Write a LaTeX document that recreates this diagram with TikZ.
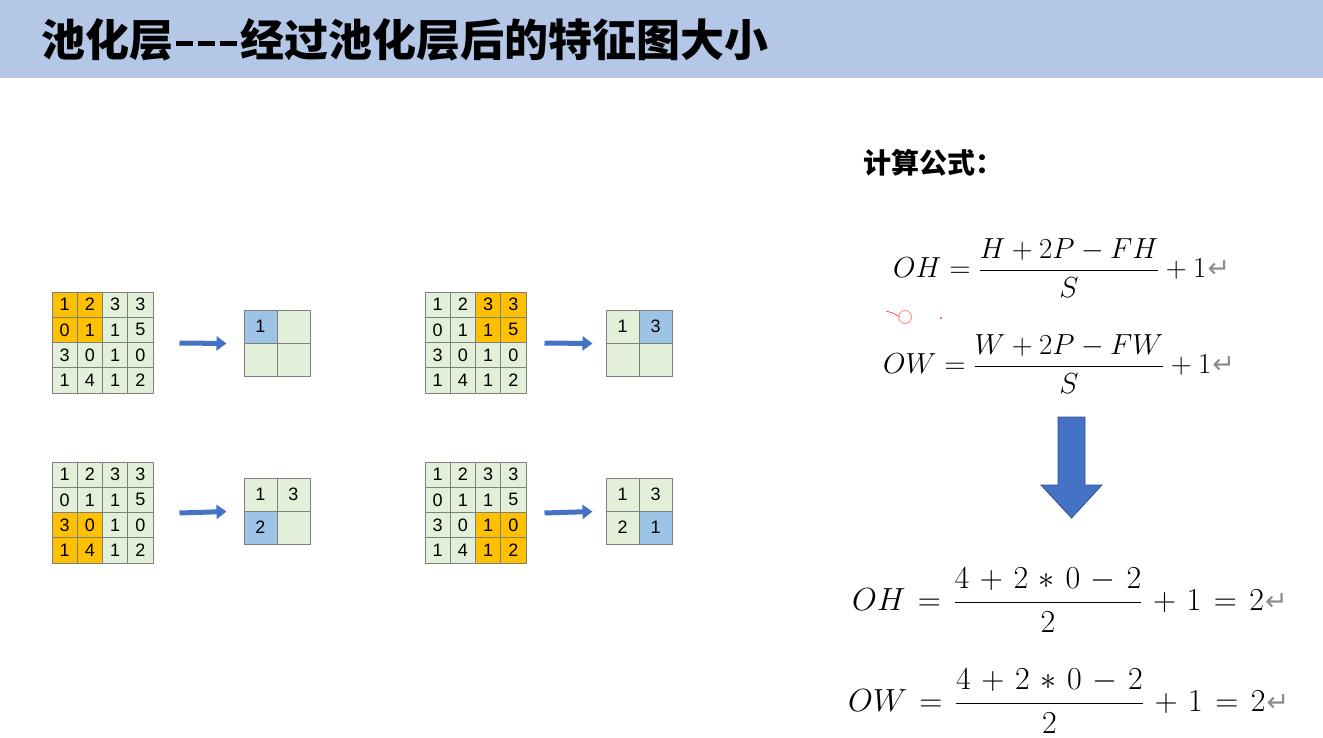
\RequirePackage{fix-cm}
\documentclass[tikz,border=0pt]{standalone}
\usepackage{fontspec}
\usepackage{amsmath}
\usetikzlibrary{arrows.meta,calc}
\newfontfamily\cjk{Noto Sans CJK SC}
\newfontfamily\arial{Liberation Sans}
\newfontfamily\djv{DejaVu Sans}
\definecolor{titlebg}{HTML}{B4C7E7}
\definecolor{cellg}{HTML}{E2EFD9}
\definecolor{cello}{HTML}{FFC000}
\definecolor{cellb}{HTML}{9DC3E6}
\definecolor{arrowb}{HTML}{4472C4}
\definecolor{arrowd}{HTML}{2F528F}
\definecolor{gridline}{HTML}{7F7F7F}
\definecolor{retgray}{HTML}{8C8C8C}
\tikzset{
  incell/.style={draw=gridline,line width=1pt,minimum size=25.25pt,inner sep=0pt,
    font=\arial\fontsize{18}{18}\selectfont},
  outcell/.style={draw=gridline,line width=1pt,minimum size=33pt,inner sep=0pt,
    font=\arial\fontsize{18}{18}\selectfont},
  fatarrow/.style={draw=arrowb,line width=5pt,-{Triangle[length=10pt,width=14pt]}},
  formula/.style={anchor=west,inner sep=0pt,font=\fontsize{29}{34}\selectfont},
  bigformula/.style={anchor=west,inner sep=0pt,font=\fontsize{32}{38}\selectfont},
}
\newcommand\ret{{\djv\color{retgray}\fontsize{27}{27}\selectfont\hspace{1pt}↵}}
\newcommand\tdash{\rule[11pt]{17pt}{4.5pt}}
\newcommand\ingrid[5]{%
  \foreach \rv [count=\r from 0] in {{1,2,3,3},{0,1,1,5},{3,0,1,0},{1,4,1,2}}{%
    \foreach \v [count=\c from 0] in \rv {%
      \pgfmathtruncatemacro\hl{(\r>=#4)&&(\r<=#4+1)&&(\c>=#5)&&(\c<=#5+1)}%
      \ifnum\hl=1 \def\fc{cello}\else\def\fc{cellg}\fi
      \node[incell,fill=\fc] (#1-\r-\c) at (#2+\c*25.25+12.625, #3+\r*25.25+12.625) {\v};
    }}}
\newcommand\ocell[6]{%
  \node[outcell] (#1-#2-#3) at (#4+#3*33+16.5, #5+#2*33+16.5) {#6};}
\begin{document}
\begin{tikzpicture}[x=1pt,y=-1pt]
\useasboundingbox (0,0) rectangle (1323,738);
\fill[white] (0,0) rectangle (1323,738);
\fill[titlebg] (0,0) rectangle (1323,78);
\node[anchor=west,inner sep=0pt,font=\cjk\bfseries\fontsize{44}{44}\selectfont] (title) at (41,40)
  {池化层\hspace{3pt}\tdash\hspace{5pt}\tdash\hspace{5pt}\tdash\hspace{3pt}经过池化层后的特征图大小};

% input grids
\ingrid{inA}{52}{292}{0}{0}
\ingrid{inB}{425}{292}{0}{2}
\ingrid{inC}{52}{462}{2}{0}
\ingrid{inD}{425}{462}{2}{2}

% output grids
\tikzset{outcell/.append style={fill=cellg}}
\ocell{outA}{0}{0}{244}{310}{}
\node[outcell,fill=cellb] at (outA-0-0) {1};
\ocell{outA}{0}{1}{244}{310}{}
\ocell{outA}{1}{0}{244}{310}{}
\ocell{outA}{1}{1}{244}{310}{}

\ocell{outB}{0}{0}{606}{310}{1}
\ocell{outB}{0}{1}{606}{310}{}
\node[outcell,fill=cellb] at (outB-0-1) {3};
\ocell{outB}{1}{0}{606}{310}{}
\ocell{outB}{1}{1}{606}{310}{}

\ocell{outC}{0}{0}{244}{478}{1}
\ocell{outC}{0}{1}{244}{478}{3}
\ocell{outC}{1}{0}{244}{478}{}
\node[outcell,fill=cellb] at (outC-1-0) {2};
\ocell{outC}{1}{1}{244}{478}{}

\ocell{outD}{0}{0}{606}{478}{1}
\ocell{outD}{0}{1}{606}{478}{3}
\ocell{outD}{1}{0}{606}{478}{2}
\ocell{outD}{1}{1}{606}{478}{}
\node[outcell,fill=cellb] at (outD-1-1) {1};

% arrows
\draw[fatarrow] ([xshift=26pt]inA-1-3.south east) -- ([xshift=-17pt]outA-0-0.south west);
\draw[fatarrow] ([xshift=18pt]inB-1-3.south east) -- ([xshift=-13pt]outB-0-0.south west);
\draw[fatarrow] ([xshift=26pt]inC-1-3.south east) -- ([xshift=-17pt]outC-0-0.south west);
\draw[fatarrow] ([xshift=18pt]inD-1-3.south east) -- ([xshift=-13pt]outD-0-0.south west);

% formulas
\node[anchor=west,inner sep=0pt,font=\cjk\bfseries\fontsize{28}{28}\selectfont] (hdr) at (863,163) {计算公式：};
\node[formula] (f1) at (893,268) {$\displaystyle OH=\frac{H+2P-FH}{S}+1$\ret};
\node[formula] (f2) at (883,364) {$\displaystyle OW=\frac{W+2P-FW}{S}+1$\ret};
\node[bigformula] (f3) at (852,600) {$\medmuskip=6mu\thickmuskip=7mu\displaystyle OH=\frac{4+2\ast 0-2}{2}+1=2$\ret};
\node[bigformula] (f4) at (848,701) {$\medmuskip=6mu\thickmuskip=7mu\displaystyle OW=\frac{4+2\ast 0-2}{2}+1=2$\ret};

% big down arrow
\filldraw[fill=arrowb,draw=arrowd,line width=0.8pt]
  (1058,417) -- (1085,417) -- (1085,485) -- (1102,485) -- (1071.5,518) -- (1041,485) -- (1058,485) -- cycle;

% pointer mark
\draw[red!70,line width=0.8pt] (886,311) .. controls (893,313) .. (900,317);
\draw[red!40,line width=1pt] (905,317) circle (6.5pt);
\fill[red!60!black] (941,318) circle (0.9pt);
\end{tikzpicture}
\end{document}
